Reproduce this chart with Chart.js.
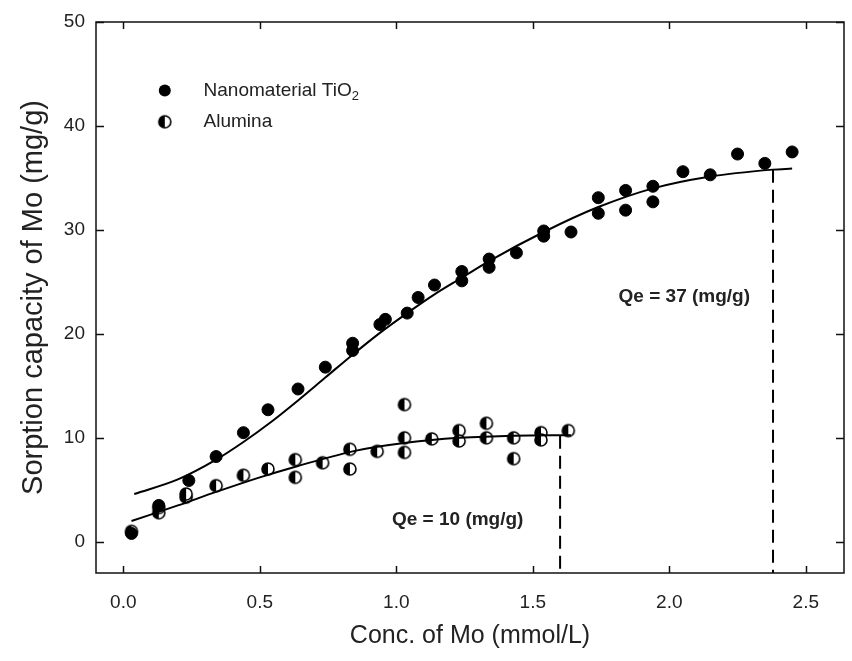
<!DOCTYPE html>
<html>
<head>
    <title>Mo sorption capacity</title>
    <script src="https://cdn.jsdelivr.net/npm/chart.js"></script>
    <style>
        body {
            margin: 0;
            background: #fff;
        }
        canvas {
            display: block;
        }
    </style>
</head>
<body>
    <canvas id="sorptionChart" width="852" height="661"></canvas>

    <script>
        const tio2X = [0.03, 0.13, 0.24, 0.34, 0.44, 0.53, 0.64, 0.74, 0.84, 0.84, 0.94, 0.96, 1.04, 1.08, 1.14, 1.24, 1.24, 1.34, 1.34, 1.44, 1.54, 1.54, 1.64, 1.74, 1.74, 1.84, 1.84, 1.94, 1.94, 2.05, 2.15, 2.25, 2.35, 2.45];
        const tio2Y = [0.8, 3.5, 5.9, 8.2, 10.5, 12.7, 14.7, 16.8, 19.1, 18.4, 20.9, 21.4, 22.0, 23.5, 24.7, 26.0, 25.1, 27.2, 26.4, 27.8, 29.9, 29.4, 29.8, 33.1, 31.6, 33.8, 31.9, 34.2, 32.7, 35.6, 35.3, 37.3, 36.4, 37.5];

        const aluminaX = [0.03, 0.13, 0.13, 0.23, 0.23, 0.34, 0.44, 0.53, 0.63, 0.63, 0.73, 0.83, 0.83, 0.93, 1.03, 1.03, 1.03, 1.13, 1.23, 1.23, 1.33, 1.33, 1.43, 1.43, 1.53, 1.53, 1.63];
        const aluminaY = [1.0, 2.8, 3.3, 4.3, 4.6, 5.4, 6.4, 7.0, 7.9, 6.2, 7.6, 8.9, 7.0, 8.7, 13.2, 10.0, 8.6, 9.9, 10.7, 9.7, 11.4, 10.0, 10.0, 8.0, 10.5, 9.8, 10.7];

        // Fitted curves
        const tio2FitX = [0.04, 0.2, 0.34, 0.44, 0.54, 0.64, 0.74, 0.84, 0.94, 1.04, 1.14, 1.24, 1.34, 1.54, 1.74, 1.94, 2.14, 2.38, 2.45];
        const tio2FitY = [4.6, 6.0, 7.9, 9.6, 11.5, 13.6, 15.8, 18.0, 20.1, 22.0, 23.8, 25.4, 27.0, 29.8, 32.2, 34.0, 35.1, 35.8, 35.9];
        const aluminaFitX = [0.03, 0.2, 0.34, 0.5, 0.64, 0.84, 0.93, 1.13, 1.23, 1.43, 1.64];
        const aluminaFitY = [2.0, 3.5, 4.8, 6.2, 7.3, 8.7, 9.15, 9.8, 10.0, 10.2, 10.25];

        // Qe drop lines
        const qeX = [1.6, 2.38];
        const qeY = [10.2, 35.8];
        const qeLabels = ['Qe = 10 (mg/g)', 'Qe = 37 (mg/g)'];
        const qeLabelX = [1.225, 2.055];
        const qeLabelY = [2.1, 23.6];

        const xTicks = [0, 0.5, 1.0, 1.5, 2.0, 2.5];
        const yTicks = [0, 10, 20, 30, 40, 50];

        const fontFamily = '"Liberation Sans", Arial, sans-serif';

        // half filled circle for alumina
        function halfCircle(r) {
            const s = 2 * r + 4;
            const c = document.createElement('canvas');
            c.width = s;
            c.height = s;
            const g = c.getContext('2d');
            g.beginPath();
            g.arc(s / 2, s / 2, r, 0, Math.PI * 2);
            g.fillStyle = '#fff';
            g.fill();
            g.beginPath();
            g.arc(s / 2, s / 2, r, Math.PI / 2, Math.PI * 1.5);
            g.closePath();
            g.fillStyle = '#000';
            g.fill();
            g.beginPath();
            g.arc(s / 2, s / 2, r, 0, Math.PI * 2);
            g.lineWidth = 1.6;
            g.strokeStyle = '#000';
            g.stroke();
            return c;
        }
        const aluminaMarker = halfCircle(6);

        function pairs(xs, ys) {
            return xs.map((x, i) => ({ x: x, y: ys[i] }));
        }

        const frameAndTicks = {
            id: 'frameAndTicks',
            afterDraw(chart) {
                const ctx = chart.ctx;
                const a = chart.chartArea;
                const xs = chart.scales.x;
                const ys = chart.scales.y;
                ctx.save();
                ctx.strokeStyle = '#111';
                ctx.lineWidth = 1.5;
                ctx.strokeRect(a.left, a.top, a.right - a.left, a.bottom - a.top);
                ctx.beginPath();
                xTicks.forEach(v => {
                    const px = Math.round(xs.getPixelForValue(v)) + 0.5;
                    ctx.moveTo(px, a.bottom); ctx.lineTo(px, a.bottom - 7);
                    ctx.moveTo(px, a.top); ctx.lineTo(px, a.top + 7);
                });
                yTicks.forEach(v => {
                    const py = Math.round(ys.getPixelForValue(v)) + 0.5;
                    ctx.moveTo(a.left, py); ctx.lineTo(a.left + 8, py);
                    ctx.moveTo(a.right, py); ctx.lineTo(a.right - 8, py);
                });
                ctx.stroke();

                // legend
                const lx = xs.getPixelForValue(0.152);
                const tx = xs.getPixelForValue(0.294);
                const l1 = ys.getPixelForValue(43.4);
                const l2 = ys.getPixelForValue(40.4);
                ctx.fillStyle = '#000';
                ctx.beginPath();
                ctx.arc(lx, l1, 6, 0, Math.PI * 2);
                ctx.fill();
                ctx.drawImage(aluminaMarker, lx - aluminaMarker.width / 2, l2 - aluminaMarker.height / 2);
                ctx.fillStyle = '#222';
                ctx.font = '19px ' + fontFamily;
                ctx.textBaseline = 'middle';
                ctx.textAlign = 'left';
                ctx.fillText('Nanomaterial TiO', tx, l1);
                const w = ctx.measureText('Nanomaterial TiO').width;
                ctx.font = '13px ' + fontFamily;
                ctx.fillText('2', tx + w, l1 + 6);
                ctx.font = '19px ' + fontFamily;
                ctx.fillText('Alumina', tx, l2);

                // Qe labels
                ctx.font = 'bold 19px ' + fontFamily;
                ctx.textAlign = 'center';
                qeLabels.forEach((t, i) => {
                    ctx.fillText(t, xs.getPixelForValue(qeLabelX[i]), ys.getPixelForValue(qeLabelY[i]));
                });
                ctx.restore();
            }
        };

        const lineStyle = { showLine: true, pointRadius: 0, borderColor: '#000', borderWidth: 2, fill: false };

        new Chart(document.getElementById('sorptionChart').getContext('2d'), {
            type: 'scatter',
            data: {
                datasets: [
                    Object.assign({ label: 'TiO2 fit', data: pairs(tio2FitX, tio2FitY), cubicInterpolationMode: 'monotone' }, lineStyle),
                    Object.assign({ label: 'Alumina fit', data: pairs(aluminaFitX, aluminaFitY), cubicInterpolationMode: 'monotone' }, lineStyle),
                    Object.assign({ label: 'Qe alumina', data: [{ x: qeX[0], y: qeY[0] }, { x: qeX[0], y: -3 }], borderDash: [13, 7] }, lineStyle),
                    Object.assign({ label: 'Qe TiO2', data: [{ x: qeX[1], y: qeY[1] }, { x: qeX[1], y: -3 }], borderDash: [13, 7] }, lineStyle),
                    {
                        label: 'Nanomaterial TiO2',
                        data: pairs(tio2X, tio2Y),
                        pointStyle: 'circle',
                        pointRadius: 6,
                        backgroundColor: '#000',
                        borderColor: '#000'
                    },
                    {
                        label: 'Alumina',
                        data: pairs(aluminaX, aluminaY),
                        pointStyle: aluminaMarker,
                        pointRadius: 7
                    }
                ]
            },
            options: {
                responsive: false,
                animation: false,
                layout: { padding: { left: 0, right: 0, top: 22, bottom: 0 } },
                plugins: {
                    legend: { display: false },
                    tooltip: { enabled: false }
                },
                scales: {
                    x: {
                        type: 'linear',
                        min: -0.1,
                        max: 2.64,
                        afterBuildTicks: s => { s.ticks = xTicks.map(v => ({ value: v })); },
                        afterFit: s => { s.height = 88; },
                        grid: { display: false },
                        border: { display: false },
                        ticks: {
                            color: '#222',
                            padding: 10,
                            font: { family: fontFamily, size: 19 },
                            callback: v => v.toFixed(1)
                        },
                        title: {
                            display: true,
                            text: 'Conc. of Mo (mmol/L)',
                            color: '#222',
                            padding: { top: 0, bottom: 10 },
                            font: { family: fontFamily, size: 25 }
                        }
                    },
                    y: {
                        type: 'linear',
                        min: -3,
                        max: 50,
                        afterBuildTicks: s => { s.ticks = yTicks.map(v => ({ value: v })); },
                        afterFit: s => { s.width = 96; },
                        grid: { display: false },
                        border: { display: false },
                        ticks: {
                            color: '#222',
                            padding: 3,
                            font: { family: fontFamily, size: 19 }
                        },
                        title: {
                            display: true,
                            text: 'Sorption capacity of Mo (mg/g)',
                            color: '#222',
                            padding: { top: 17, bottom: 0 },
                            font: { family: fontFamily, size: 29 }
                        }
                    }
                }
            },
            plugins: [frameAndTicks]
        });
    </script>
</body>
</html>
